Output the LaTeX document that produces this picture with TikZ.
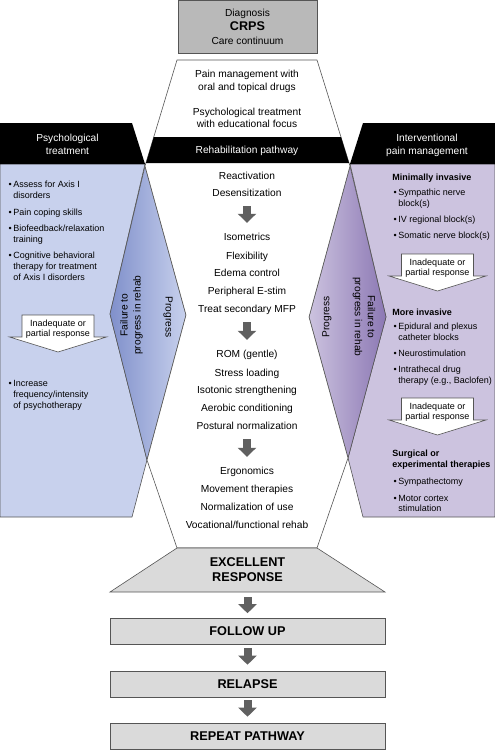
\documentclass[tikz,border=0pt]{standalone}
\usepackage{fontspec}
\setmainfont{Liberation Sans}
\usetikzlibrary{arrows.meta}
\definecolor{psyblue}{RGB}{200,209,237}
\definecolor{psydeep}{RGB}{128,144,203}
\definecolor{intlav}{RGB}{204,195,223}
\definecolor{intdeep}{RGB}{140,120,180}
\definecolor{edgegray}{RGB}{85,85,85}
\definecolor{boxgray}{RGB}{185,185,185}
\definecolor{stepgray}{RGB}{218,218,218}
\definecolor{arrgray}{RGB}{96,96,96}
\newcommand\itemdot{\llap{•\hspace{1.6pt}}}
\begin{document}
\begin{tikzpicture}[x=1pt,y=-1pt,line width=0.6pt,inner sep=0pt,
    font=\fontsize{10.2}{13}\selectfont,
    rowtext/.style={text height=7.6pt,text depth=0.2pt},
    paneltext/.style={font=\fontsize{9}{10.5}\selectfont},
    panelrow/.style={paneltext,text height=6.8pt,text depth=0.4pt},
    panelhead/.style={panelrow,font=\fontsize{9}{10.5}\selectfont\bfseries},
    edgeline/.style={draw=edgegray},
    respbox/.style={draw=edgegray,fill=white},
    stepbox/.style={draw=edgegray,fill=stepgray,minimum width=275pt,
      minimum height=26pt,font=\fontsize{12.7}{15}\selectfont\bfseries},
    downarrow/.style={draw=arrgray,line width=8pt,
      -{Triangle[width=18pt,length=9pt]},shorten <=9pt,shorten >=10pt}]
    \path[use as bounding box] (0,0) rectangle (495,750);
    \draw[edgeline,fill=psyblue] (0,164) -- (145,164) -- (110,314) -- (147,460)
      -- (132,517) -- (0,517) -- cycle;
    \draw[edgeline,fill=intlav] (350,164) -- (495,164) -- (495,517) -- (363,517)
      -- (348,458) -- (386,317) -- cycle;
    \shade[edgeline,left color=psydeep,middle color=white,right color=psyblue]
      (145,166) -- (186,315) -- (147,460) -- (110,314) -- cycle;
    \shade[edgeline,left color=intlav,middle color=white,right color=intdeep]
      (350,166) -- (386,317) -- (348,458) -- (309,317) -- cycle;
    \draw[edgeline,fill=white] (177,60) -- (317,60) -- (350,166) -- (309,317)
      -- (348,458) -- (317,548) -- (177,548) -- (147,460) -- (186,315)
      -- (145,166) -- cycle;
    \fill (0,123) -- (132,123) -- (145,164) -- (0,164) -- cycle;
    \fill (363,123) -- (495,123) -- (495,164) -- (350,164) -- cycle;
    \fill (153.8,137) -- (341,137) -- (349,163) -- (146,163) -- cycle;
    \draw[edgeline,fill=stepgray] (177,548) -- (317,548) -- (385,592)
      -- (110,592) -- cycle;
    \node[draw=edgegray,fill=boxgray,minimum width=139pt,minimum height=52.5pt,
      align=center,font=\fontsize{10.2}{14}\selectfont] (diag) at (247.5,26.8)
      {Diagnosis\\{\fontsize{12.6}{14}\selectfont\bfseries CRPS}\\Care continuum};
    \foreach \y/\t [count=\i] in {74/Pain management with,87/oral and topical drugs,
        112/Psychological treatment,124/with educational focus}
      \node[rowtext] (t\i) at (247,\y) {\t};
    \node[rowtext,text=white] (rehab) at (247,150) {Rehabilitation pathway};
    \node[text=white,align=center] (psyhead) at (67.5,144.5) {Psychological\\treatment};
    \node[text=white,align=center] (inthead) at (427,145.5) {Interventional\\pain management};
    \foreach \y/\t [count=\i] in {176/Reactivation,193/Desensitization,
        237/Isometrics,256/Flexibility,273/Edema control,291/Peripheral E-stim,
        309/Treat secondary MFP,354/ROM (gentle),373/Stress loading,
        390/Isotonic strengthening,408/Aerobic conditioning,
        426/Postural normalization,471/Ergonomics,489/Movement therapies,
        507/Normalization of use,525/{Vocational/functional rehab}}
      \node[rowtext] (r\i) at (247,\y) {\t};
    \foreach \a/\b in {2/3,7/8,12/13}
      \draw[downarrow] (r\a) -- (r\b);
    \node[rotate=90,align=center] (lfail) at (131.5,315) {Failure to\\progress in rehab};
    \node[rotate=-90] (lprog) at (168,317) {Progress};
    \node[rotate=90] (rprog) at (327,317) {Progress};
    \node[rotate=-90,align=center] (rfail) at (364,317) {Failure to\\progress in rehab};
    \foreach \y/\t [count=\i] in {184/{\itemdot Assess for Axis I},195/disorders,
        212/{\itemdot Pain coping skills},228/{\itemdot Biofeedback/relaxation},
        239/training,255/{\itemdot Cognitive behavioral},266/therapy for treatment,
        277/of Axis I disorders,383/{\itemdot Increase},394/{frequency/intensity},
        405/of psychotherapy}
      \node[panelrow,anchor=west] (pl\i) at (13,\y) {\t};
    \foreach \y/\t [count=\i] in {177/Minimally invasive,312/More invasive,
        453/Surgical or,464/experimental therapies}
      \node[panelhead,anchor=west] (ph\i) at (392,\y) {\t};
    \foreach \y/\t [count=\i] in {192/{\itemdot Sympathic nerve},203/block(s),
        219/{\itemdot IV regional block(s)},235/{\itemdot Somatic nerve block(s)},
        326/{\itemdot Epidural and plexus},337/catheter blocks,
        353/{\itemdot Neurostimulation},369/{\itemdot Intrathecal drug},
        380/{therapy (e.g., Baclofen)},481/{\itemdot Sympathectomy},
        498/{\itemdot Motor cortex},508/stimulation}
      \node[panelrow,anchor=west] (pr\i) at (398,\y) {\t};
    \foreach \n/\cx/\ty in {lresp/58/315,rresp/437.5/254,sresp/437.5/398} {
      \draw[respbox] (\cx-36,\ty) -- (\cx+36,\ty) -- (\cx+36,\ty+22)
        -- (\cx+48.5,\ty+22) -- (\cx,\ty+37) -- (\cx-48.5,\ty+22)
        -- (\cx-36,\ty+22) -- cycle;
      \node[paneltext,align=center] (\n) at (\cx,\ty+14)
        {Inadequate or\\partial response};
    }
    \node[minimum width=275pt,minimum height=44pt,align=center,
      font=\fontsize{12.7}{15}\selectfont\bfseries] (excel) at (247.5,570)
      {EXCELLENT\\RESPONSE};
    \node[stepbox] (follow) at (247.5,631.5) {FOLLOW UP};
    \node[stepbox] (relapse) at (247.5,684) {RELAPSE};
    \node[stepbox] (repeat) at (247.5,736) {REPEAT PATHWAY};
    \draw[downarrow,shorten <=5pt,shorten >=5pt] (excel) -- (follow);
    \draw[downarrow,shorten <=3pt,shorten >=6pt] (follow) -- (relapse);
    \draw[downarrow,shorten <=3pt,shorten >=6pt] (relapse) -- (repeat);
  \end{tikzpicture}
\end{document}
